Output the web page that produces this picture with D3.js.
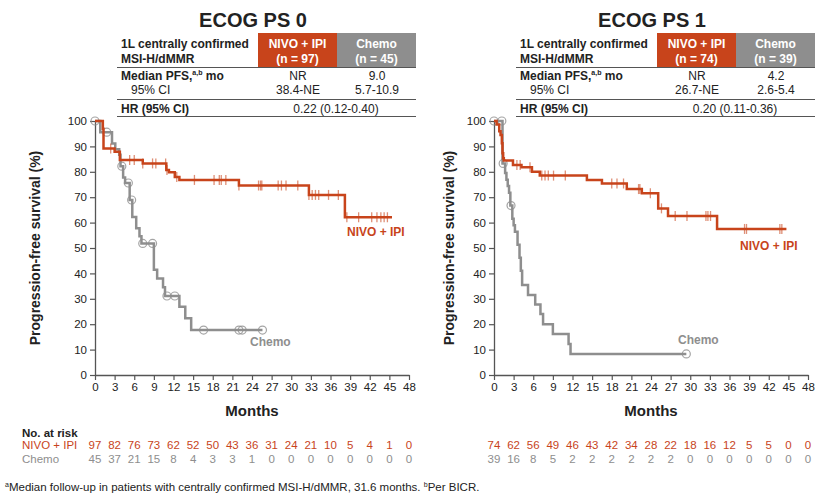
<!DOCTYPE html>
<html><head><meta charset="utf-8">
<script src="https://cdn.jsdelivr.net/npm/d3@7"></script>
<style>
body{margin:0;background:#fff;}
svg text{font-family:"Liberation Sans",Arial,sans-serif;}
</style></head>
<body><svg id="c" width="827" height="504"></svg>
<script>
// ---------- data ----------
const months = [0,3,6,9,12,15,18,21,24,27,30,33,36,39,42,45,48];
const yTicks = [0,10,20,30,40,50,60,70,80,90,100];

const titles = ["ECOG PS 0","ECOG PS 1"];
const nNivo = [97,74];
const nChemo = [45,39];
const medianNivo = ["NR","NR"];
const ciNivo = ["38.4-NE","26.7-NE"];
const medianChemo = ["9.0","4.2"];
const ciChemo = ["5.7-10.9","2.6-5.4"];
const hrText = ["0.22 (0.12-0.40)","0.20 (0.11-0.36)"];

// KM steps [month, % PFS]
const nivoSteps0 = [[0,100],[1.2,96.9],[1.3,89.2],[3.0,87.9],[3.8,84.6],[7.3,83.3],[10.9,80.7],[11.3,79.8],[12.2,78.0],[12.9,76.8],[22.0,74.6],[32.7,70.9],[38.2,62.1]];
const nivoEnd0 = 45.4;
const nivoCens0 = [2.4,5.3,6.0,7.3,8.8,9.3,10.8,11.0,12.5,15.2,18.2,19.0,19.3,20.0,22.0,25.0,25.3,25.5,28.0,28.5,29.2,31.0,32.7,33.2,33.7,34.2,35.7,37.2,38.5,40.3,42.3,43.1,43.7,44.2,44.7];
const chemoSteps0 = [[0,100],[0.8,95.6],[2.6,91.1],[3.1,88.9],[3.7,86.7],[3.9,82.2],[4.3,77.8],[4.6,75.6],[5.3,68.9],[5.7,62.2],[6.3,57.8],[6.8,54.6],[7.1,51.8],[9.0,41.4],[9.5,38.0],[10.4,34.5],[10.7,31.1],[12.9,26.9],[13.8,22.3],[14.7,17.7]];
const chemoEnd0 = 25.6;
const chemoCens0 = [0,1.8,4.1,5.1,5.6,7.3,8.8,11.0,12.2,16.6,22.0,22.5,25.6];

const nivoSteps1 = [[0,100],[0.4,98.6],[0.8,96.0],[1.0,94.5],[1.2,91.2],[1.3,87.3],[1.4,85.3],[1.5,84.4],[2.9,82.7],[4.2,81.8],[5.8,80.0],[7.0,78.5],[14.2,76.8],[16.5,75.4],[20.3,73.2],[22.6,71.6],[25.1,65.6],[26.6,62.6],[34.1,57.5]];
const nivoEnd1 = 44.7;
const nivoCens1 = [3.5,4.0,5.5,7.3,7.8,8.3,9.1,10.9,18.0,18.8,19.8,22.1,22.3,23.9,25.6,27.7,29.5,32.4,32.7,33.1,38.3,38.6,43.7,44.0];
const chemoSteps1 = [[0,100],[1.3,83.3],[1.7,79.5],[1.9,76.9],[2.1,74.4],[2.3,71.8],[2.5,66.7],[2.8,61.5],[3.0,59.0],[3.2,56.4],[3.6,51.3],[3.9,46.2],[4.1,41.0],[4.3,35.4],[5.2,31.5],[6.3,27.8],[7.1,24.0],[7.5,20.0],[9.0,16.1],[11.4,12.2],[11.7,8.3]];
const chemoEnd1 = 29.4;
const chemoCens1 = [0,1.2,1.4,2.6,29.4];

const riskNivo0 = [97,82,76,73,62,52,50,43,36,31,24,21,10,5,4,1,0];
const riskChemo0 = [45,37,21,15,8,4,3,3,1,0,0,0,0,0,0,0,0];
const riskNivo1 = [74,62,56,49,46,43,42,34,28,22,18,16,12,5,5,0,0];
const riskChemo1 = [39,16,8,5,2,2,2,2,2,2,0,0,0,0,0,0,0];

// ---------- drawing ----------
const ORANGE = "#c8441b", GRAY = "#8e8e8e", TXT = "#222";
const svg = d3.select("#c");

const panels = [
  {dx:0, title:titles[0], nivo:nivoSteps0, nivoEnd:nivoEnd0, nivoC:nivoCens0, chemo:chemoSteps0, chemoEnd:chemoEnd0, chemoC:chemoCens0, rN:riskNivo0, rC:riskChemo0, i:0,
   nivoLbl:[347,236], chemoLbl:[250,346], ylab:35},
  {dx:399, title:titles[1], nivo:nivoSteps1, nivoEnd:nivoEnd1, nivoC:nivoCens1, chemo:chemoSteps1, chemoEnd:chemoEnd1, chemoC:chemoCens1, rN:riskNivo1, rC:riskChemo1, i:1,
   nivoLbl:[740,250], chemoLbl:[678,344], ylab:449}
];

function valueAt(steps,t){let v=steps[0][1];for(const s of steps){if(s[0]<=t)v=s[1];}return v;}

panels.forEach(p=>{
  const x0 = 95 + p.dx;
  const x = d3.scaleLinear().domain([0,48]).range([x0, x0+314]);
  const y = d3.scaleLinear().domain([0,100]).range([375,121]);
  const g = svg.append("g");

  // title + table
  const tx = p.dx;
  g.append("text").attr("x",253+tx).attr("y",27).attr("text-anchor","middle")
    .attr("font-size",20).attr("font-weight","bold").attr("fill",TXT).text(p.title);
  g.append("rect").attr("x",258+tx).attr("y",33).attr("width",79).attr("height",34).attr("fill",ORANGE);
  g.append("rect").attr("x",337+tx).attr("y",33).attr("width",79).attr("height",34).attr("fill",GRAY);
  const hdr = (t,xx,yy,col,anchor,bold,fs)=>g.append("text").attr("x",xx).attr("y",yy).attr("text-anchor",anchor||"start")
    .attr("font-size",fs||12).attr("font-weight",bold?"bold":"normal").attr("fill",col).text(t);
  hdr("1L centrally confirmed",121+tx,48,TXT,"start",true);
  hdr("MSI-H/dMMR",121+tx,63,TXT,"start",true);
  hdr("NIVO + IPI",297.5+tx,48,"#fff","middle",true);
  hdr(`(n = ${nNivo[p.i]})`,297.5+tx,63,"#fff","middle",true);
  hdr("Chemo",376.5+tx,48,"#fff","middle",true);
  hdr(`(n = ${nChemo[p.i]})`,376.5+tx,63,"#fff","middle",true);
  [67.5,99.5,116.5].forEach(ly=>g.append("line").attr("x1",117+tx).attr("x2",416+tx).attr("y1",ly).attr("y2",ly)
     .attr("stroke","#555").attr("stroke-width",1));
  const mp = hdr("Median PFS,",121+tx,80,TXT,"start",true);
  mp.append("tspan").attr("font-size",7).attr("dy",-5).text("a,b");
  mp.append("tspan").attr("dy",5).text(" mo");
  hdr("95% CI",131+tx,93.5,TXT,"start",false);
  hdr(medianNivo[p.i],298+tx,80,TXT,"middle",false);
  hdr(ciNivo[p.i],298+tx,93.5,TXT,"middle",false);
  hdr(medianChemo[p.i],377+tx,80,TXT,"middle",false);
  hdr(ciChemo[p.i],377+tx,93.5,TXT,"middle",false);
  hdr("HR (95% CI)",121+tx,112.5,TXT,"start",true);
  hdr(hrText[p.i],336+tx,112.5,TXT,"middle",false);

  // axes
  const ay = g.append("g").attr("transform",`translate(${x0},0)`)
    .call(d3.axisLeft(y).tickValues(yTicks).tickSize(5).tickSizeOuter(0).tickPadding(3));
  const ax = g.append("g").attr("transform",`translate(0,375)`)
    .call(d3.axisBottom(x).tickValues(months).tickSize(5).tickSizeOuter(0).tickPadding(3));
  [ax,ay].forEach(a=>{
    a.select(".domain").attr("stroke","#555").attr("stroke-width",1.3);
    a.selectAll(".tick line").attr("stroke","#555").attr("stroke-width",1.2);
    a.selectAll(".tick text").attr("font-family","'Open Sans',sans-serif").attr("font-size",11.5).attr("fill",TXT);
  });

  g.append("text").attr("x",x0+157).attr("y",416).attr("text-anchor","middle")
    .attr("font-size",15).attr("font-weight","bold").attr("fill",TXT).text("Months");
  g.append("text").attr("transform",`translate(${p.ylab},248) rotate(-90)`).attr("text-anchor","middle")
    .attr("dy","0.35em").attr("font-size",14).attr("font-weight","bold").attr("fill",TXT).text("Progression-free survival (%)");

  const line = d3.line().x(d=>x(d[0])).y(d=>y(d[1])).curve(d3.curveStepAfter);
  const chemoPts = p.chemo.concat([[p.chemoEnd, p.chemo[p.chemo.length-1][1]]]);
  const nivoPts = p.nivo.concat([[p.nivoEnd, p.nivo[p.nivo.length-1][1]]]);

  g.append("path").attr("d",line(chemoPts)).attr("fill","none").attr("stroke",GRAY).attr("stroke-width",2.5);
  g.selectAll(null).data(p.chemoC).enter().append("circle")
    .attr("cx",d=>x(d)).attr("cy",d=>y(valueAt(p.chemo,d))).attr("r",4)
    .attr("fill","none").attr("stroke",GRAY).attr("stroke-opacity",0.8).attr("stroke-width",1.2);

  g.append("path").attr("d",line(nivoPts)).attr("fill","none").attr("stroke",ORANGE).attr("stroke-width",2.5);
  g.selectAll(null).data(p.nivoC).enter().append("line")
    .attr("x1",d=>x(d)).attr("x2",d=>x(d))
    .attr("y1",d=>y(valueAt(p.nivo,d))-5).attr("y2",d=>y(valueAt(p.nivo,d))+5)
    .attr("stroke",ORANGE).attr("stroke-opacity",0.6).attr("stroke-width",1.3);

  g.append("text").attr("x",p.nivoLbl[0]).attr("y",p.nivoLbl[1]).attr("font-size",12).attr("font-weight","bold")
    .attr("fill",ORANGE).text("NIVO + IPI");
  g.append("text").attr("x",p.chemoLbl[0]).attr("y",p.chemoLbl[1]).attr("font-size",12).attr("font-weight","bold")
    .attr("fill",GRAY).text("Chemo");

  // at risk
  g.selectAll(null).data(p.rN).enter().append("text")
    .attr("x",(d,i)=>x(months[i])).attr("y",448.5).attr("text-anchor","middle")
    .attr("font-family","'Open Sans',sans-serif").attr("font-size",11.5).attr("fill",ORANGE).text(d=>d);
  g.selectAll(null).data(p.rC).enter().append("text")
    .attr("x",(d,i)=>x(months[i])).attr("y",462.5).attr("text-anchor","middle")
    .attr("font-family","'Open Sans',sans-serif").attr("font-size",11.5).attr("fill",GRAY).text(d=>d);
});

svg.append("text").attr("x",22).attr("y",436.5).attr("font-size",11.5).attr("font-weight","bold").attr("fill",TXT).text("No. at risk");
svg.append("text").attr("x",22).attr("y",448.5).attr("font-size",11.5).attr("fill",ORANGE).text("NIVO + IPI");
svg.append("text").attr("x",22).attr("y",462.5).attr("font-size",11.5).attr("fill",GRAY).text("Chemo");

const fn = svg.append("text").attr("x",5).attr("y",490.5).attr("font-size",11.5).attr("fill",TXT);
fn.append("tspan").attr("font-size",7).attr("dy",-4).text("a");
fn.append("tspan").attr("dy",4).text("Median follow-up in patients with centrally confirmed MSI-H/dMMR, 31.6 months. ");
fn.append("tspan").attr("font-size",7).attr("dy",-4).text("b");
fn.append("tspan").attr("dy",4).text("Per BICR.");
</script></body></html>
